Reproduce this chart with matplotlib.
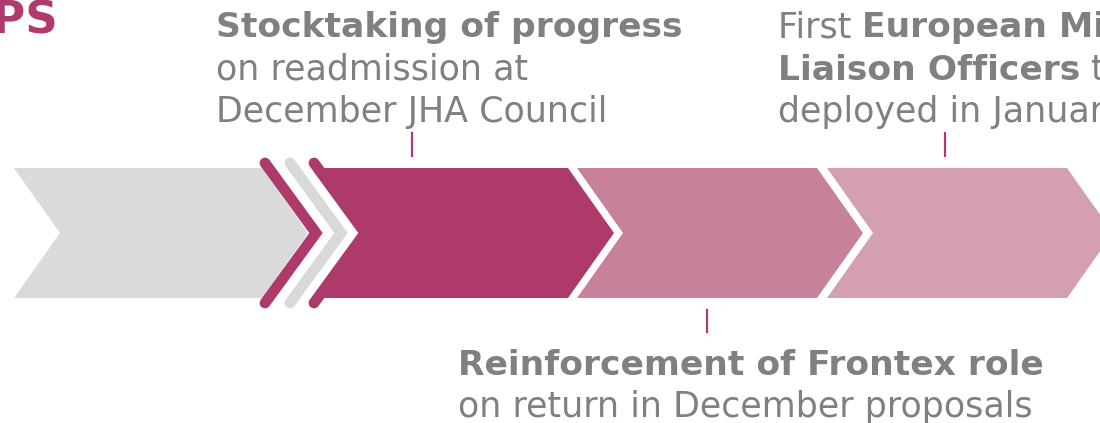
import matplotlib.pyplot as plt
from matplotlib.patches import Polygon

# chevron band: left / right edge of each stage (pixels)
stage_left = [14, 316, 577, 827]
stage_right = [262, 568, 817, 1067]
stage_colors = ['#dadada', '#ae3a6b', '#c7819b', '#d49fb2']

# thin separator strokes between the grey and magenta stage
stroke_x = [265, 290, 314]
stroke_colors = ['#ae3a6b', '#d9d9d9', '#ae3a6b']

# notes: every line is a list of (text, bold)
note_top1 = [[('Stocktaking of progress', True)],
             [('on readmission at', False)],
             [('December JHA Council', False)]]
note_top2 = [[('First ', False), ('European Migration', True)],
             [('Liaison Officers', True), (' to be', False)],
             [('deployed in January', False)]]
note_bottom = [[('Reinforcement of Frontex role', True)],
               [('on return in December proposals', False)]]

tick_x = [412, 945, 707]
tick_y = [(133, 156), (133, 156), (310, 332)]

TOP, BOT, DEPTH = 168, 298, 46
MID = (TOP + BOT) / 2
GREY_TXT = '#808080'
MAGENTA = '#b03a6e'
FS_BOLD = 24.8
FS_REG = 25.1

fig = plt.figure(figsize=(11, 4.23), dpi=100)
ax = fig.add_axes([0, 0, 1, 1])
ax.set_xlim(0, 1100)
ax.set_ylim(423, 0)
ax.axis('off')

for L, R, c in zip(stage_left, stage_right, stage_colors):
    pts = [(L, TOP), (R, TOP), (R + DEPTH, MID), (R, BOT), (L, BOT), (L + DEPTH, MID)]
    ax.add_patch(Polygon(pts, closed=True, facecolor=c, edgecolor='none', zorder=1))

for x, c in zip(stroke_x, stroke_colors):
    ax.plot([x, x + 51, x], [TOP - 5, MID, BOT + 5], color=c, lw=7.8,
            solid_capstyle='round', solid_joinstyle='miter', zorder=2)


def rich_line(x, y, parts):
    prev = None
    for s, bold in parts:
        w = 'bold' if bold else 'normal'
        fs = FS_BOLD if bold else FS_REG
        if prev is None:
            prev = ax.text(x, y, s, fontsize=fs, fontweight=w, color=GREY_TXT,
                           va='baseline', ha='left')
        else:
            prev = ax.annotate(s, xy=(1, 0), xycoords=prev, fontsize=fs,
                               fontweight=w, color=GREY_TXT, va='bottom', ha='left',
                               annotation_clip=False)


def note(x, y0, lines, step=42.5):
    for i, parts in enumerate(lines):
        rich_line(x, y0 + i * step, parts)


note(216, 37, note_top1)
note(778, 37, note_top2)
note(458, 375, note_bottom)

for x, (y1, y2) in zip(tick_x, tick_y):
    ax.plot([x, x], [y1, y2], color=MAGENTA, lw=1.6)

ax.text(58, 34, 'STEPS', fontsize=32.5, fontweight='bold', color=MAGENTA,
        ha='right', va='baseline')

fig.savefig('out.png', dpi=100)
